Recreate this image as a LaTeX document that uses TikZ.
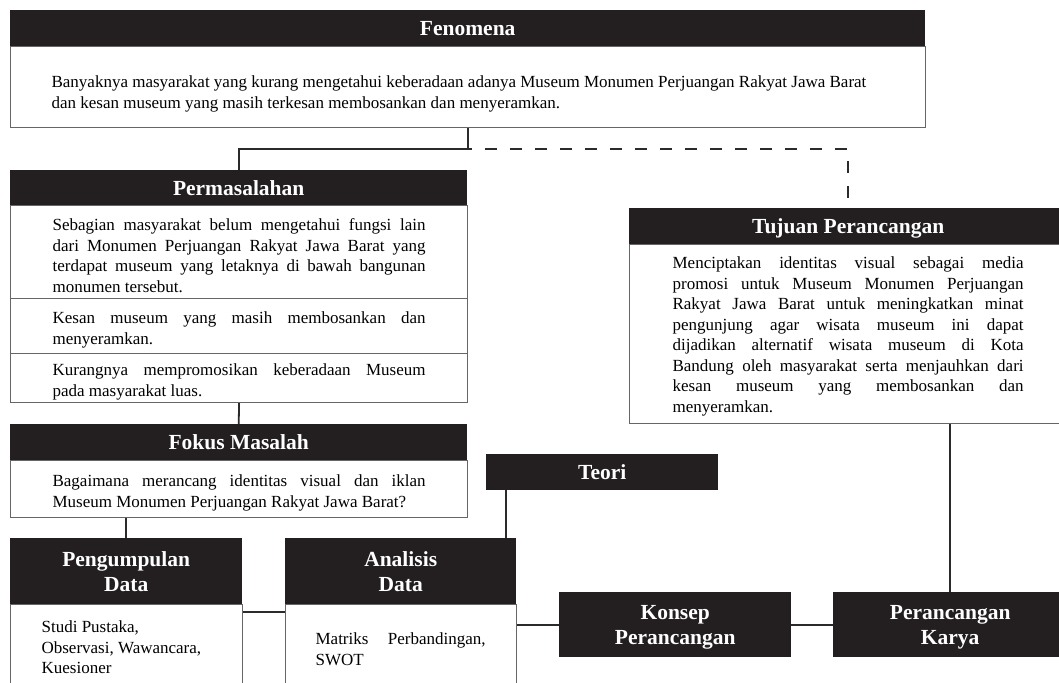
\documentclass[tikz,border=0pt]{standalone}
\usepackage{fontspec}
\setmainfont{Liberation Serif}
\definecolor{hdrc}{HTML}{231F20}
\definecolor{linec}{HTML}{2B2B2B}
\definecolor{boxc}{HTML}{666666}
\newcommand\bodyfont{\fontsize{17}{20.5}\selectfont\hyphenpenalty=10000\exhyphenpenalty=10000\tolerance=10000}
\newcommand\hdrfont{\fontsize{21.5}{25}\selectfont\bfseries}
% #1 left inset, #2 text width, #3 right inset, #4 top pad, #5 text
\newcommand\btxt[5]{\hspace*{#1pt}\parbox[c]{#2pt}{\vspace*{#4pt}#5}\hspace*{#3pt}}
\begin{document}
\begin{tikzpicture}[x=1pt,y=-1pt,
  hdr/.style={fill=hdrc, draw=none, text=white, font=\hdrfont, inner sep=0pt,
              anchor=north west, align=center, text depth=0pt},
  bodybox/.style={draw=boxc, line width=1.2pt, fill=white, inner sep=0pt,
                  anchor=north west, font=\bodyfont},
  conn/.style={draw=linec, line width=1.8pt},
  dashconn/.style={conn, dash pattern=on 12pt off 13pt, dash phase=8pt}]
\useasboundingbox (0,0) rectangle (1059,682);
\clip (0,0) rectangle (1059,682);
\fill[white] (0,0) rectangle (1059,682);

% Fenomena
\node[hdr, minimum width=915, minimum height=36] (fenH) at (10,10) {Fenomena};
\node[bodybox, minimum height=81] (fenB) at (10,46)
  {\btxt{41}{833}{41}{14}{\raggedright Banyaknya masyarakat yang kurang mengetahui keberadaan adanya Museum Monumen Perjuangan Rakyat Jawa Barat\\dan kesan museum yang masih terkesan membosankan dan menyeramkan.}};

% Permasalahan
\node[hdr, minimum width=457, minimum height=35] (permH) at (10,170) {Permasalahan};
\node[bodybox, minimum height=93] (perm1) at (10,205)
  {\btxt{42}{373}{42}{7}{Sebagian masyarakat belum mengetahui fungsi lain\linebreak dari Monumen Perjuangan Rakyat Jawa Barat yang\linebreak terdapat museum yang letaknya di bawah bangunan\linebreak monumen tersebut.}};
\node[bodybox, minimum height=55] (perm2) at (10,298)
  {\btxt{42}{373}{42}{8}{Kesan museum yang masih membosankan dan\linebreak menyeramkan.}};
\node[bodybox, minimum height=49] (perm3) at (10,353)
  {\btxt{42}{373}{42}{8}{Kurangnya mempromosikan keberadaan Museum\linebreak pada masyarakat luas.}};

% Fokus Masalah
\node[hdr, minimum width=457, minimum height=36] (fokH) at (10,424) {Fokus Masalah};
\node[bodybox, minimum height=57] (fokB) at (10,460)
  {\btxt{42}{373}{42}{8}{Bagaimana merancang identitas visual dan iklan\linebreak Museum Monumen Perjuangan Rakyat Jawa Barat?}};

% Tujuan Perancangan
\node[hdr, minimum width=438, minimum height=36] (tujH) at (629,208) {Tujuan Perancangan};
\node[bodybox, minimum height=179] (tujB) at (629,244)
  {\btxt{43}{351}{44}{5}{Menciptakan identitas visual sebagai media\linebreak promosi untuk Museum Monumen Perjuangan\linebreak Rakyat Jawa Barat untuk meningkatkan minat\linebreak pengunjung agar wisata museum ini dapat\linebreak dijadikan alternatif wisata museum di Kota\linebreak Bandung oleh masyarakat serta menjauhkan dari\linebreak kesan museum yang membosankan dan\linebreak menyeramkan.}};

% Teori
\node[hdr, minimum width=232, minimum height=36] (teori) at (486,454) {Teori};

% Pengumpulan Data
\node[hdr, minimum width=232, minimum height=66] (pengH) at (10,538) {Pengumpulan\\Data};
\node[bodybox, minimum height=86] (pengB) at (10,604)
  {\btxt{31}{170}{31}{0}{\raggedright Studi Pustaka,\\Observasi, Wawancara,\\Kuesioner}};

% Analisis Data
\node[hdr, minimum width=231, minimum height=66] (anaH) at (285,538) {Analisis\\Data};
\node[bodybox, minimum height=89] (anaB) at (285,604)
  {\btxt{30}{170}{31}{0}{Matriks Perbandingan,\linebreak SWOT}};

% Konsep and Perancangan Karya
\node[hdr, minimum width=232, minimum height=65] (konsep) at (559,592) {Konsep\\Perancangan};
\node[hdr, minimum width=234, minimum height=65] (karya) at (833,592) {Perancangan\\Karya};

% connectors
\coordinate (jn) at ([yshift=-21pt]fenB.south);
\draw[conn] (fenB.south) -- (jn) -| (permH.north);
\draw[dashconn] (jn) -| (tujH.north);
\draw[conn] (perm3.south) -- (fokH.north);
\draw[conn] (fokB.south -| pengH.north) -- (pengH.north);
\draw[conn] ([xshift=20pt]teori.south west) -- ([xshift=20pt]teori.south west |- anaH.north);
\draw[conn] ([yshift=-8pt]pengB.north east) -- ([yshift=-8pt]anaB.north west);
\draw[conn] (anaB.east |- konsep.west) -- (konsep.west);
\draw[conn] (konsep.east) -- (karya.west);
\draw[conn] (tujB.south -| karya.north) -- (karya.north);
\end{tikzpicture}
\end{document}
